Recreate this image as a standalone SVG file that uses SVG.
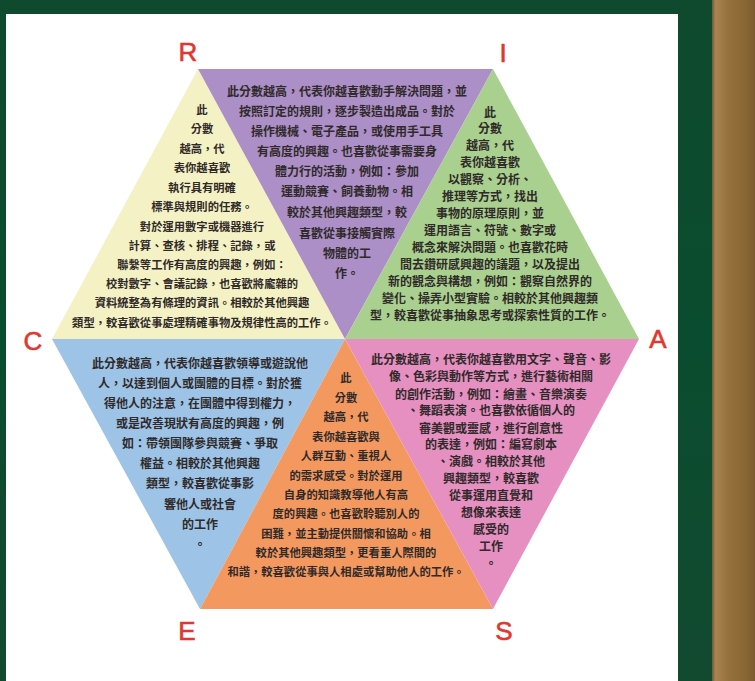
<svg xmlns="http://www.w3.org/2000/svg" width="755" height="681" viewBox="0 0 755 681" xml:lang="zh-TW" lang="zh-TW">
<defs>
<linearGradient id="wood" x1="0" y1="0" x2="1" y2="0">
<stop offset="0" stop-color="#6e5a2e"/>
<stop offset="0.08" stop-color="#a98450"/>
<stop offset="0.4" stop-color="#94703c"/>
<stop offset="0.75" stop-color="#8a6834"/>
<stop offset="1" stop-color="#7c5c2e"/>
</linearGradient>
<linearGradient id="board" x1="0" y1="0" x2="0" y2="1">
<stop offset="0" stop-color="#0f4a2e"/>
<stop offset="0.5" stop-color="#0a4c2f"/>
<stop offset="1" stop-color="#124a30"/>
</linearGradient>
<style>
.t{font-family:"Noto Sans CJK TC","Noto Sans CJK SC",sans-serif;font-weight:700;fill:#302a2a;text-anchor:middle;dominant-baseline:central}
.s12{font-size:12px}
.s11{font-size:11.3px}
.lt{font-family:"Liberation Sans",Arial,sans-serif;font-size:26px;fill:#e0372e;stroke:#e0372e;stroke-width:0.6;text-anchor:middle}
</style>
</defs>
<rect x="0" y="0" width="755" height="681" fill="url(#board)"/>
<rect x="712" y="0" width="43" height="681" fill="url(#wood)"/>
<rect x="6" y="14" width="672" height="667" fill="#ffffff"/>

<g id="node-R">
<polygon points="198,69 345,339 52,339" fill="#f4f2c4"/>
<g class="t s11">
<text x="202" y="109">此</text>
<text x="202" y="128">分數</text>
<text x="202" y="148">越高，代</text>
<text x="202" y="167">表你越喜歡</text>
<text x="202" y="187">執行具有明確</text>
<text x="202" y="206">標準與規則的任務。</text>
<text x="202" y="226">對於運用數字或機器進行</text>
<text x="202" y="245">計算、查核、排程、記錄，或</text>
<text x="202" y="264">聯繫等工作有高度的興趣，例如：</text>
<text x="202" y="283">校對數字、會議記錄，也喜歡將龐雜的</text>
<text x="202" y="302">資料統整為有條理的資訊。相較於其他興趣</text>
<text x="202" y="322">類型，較喜歡從事處理精確事物及規律性高的工作。</text>
</g>
</g>

<g id="node-R-I">
<polygon points="198,69 493,69 345,339" fill="#ab8fc6"/>
<g class="t s12">
<text x="347" y="90">此分數越高，代表你越喜歡動手解決問題，並</text>
<text x="347" y="110">按照訂定的規則，逐步製造出成品。對於</text>
<text x="347" y="130">操作機械、電子產品，或使用手工具</text>
<text x="347" y="150">有高度的興趣。也喜歡從事需要身</text>
<text x="347" y="170">體力行的活動，例如：參加</text>
<text x="347" y="190">運動競賽、飼養動物。相</text>
<text x="347" y="211">較於其他興趣類型，較</text>
<text x="347" y="232">喜歡從事接觸實際</text>
<text x="347" y="252">物體的工</text>
<text x="347" y="272">作。</text>
</g>
</g>

<g id="node-I">
<polygon points="493,69 639,339 345,339" fill="#a9d08e"/>
<g class="t s12">
<text x="490" y="111">此</text>
<text x="490" y="127">分數</text>
<text x="490" y="144">越高，代</text>
<text x="490" y="161">表你越喜歡</text>
<text x="490" y="178">以觀察、分析、</text>
<text x="490" y="195">推理等方式，找出</text>
<text x="490" y="212">事物的原理原則，並</text>
<text x="490" y="229">運用語言、符號、數字或</text>
<text x="490" y="246">概念來解決問題。也喜歡花時</text>
<text x="490" y="263">間去鑽研感興趣的議題，以及提出</text>
<text x="490" y="280">新的觀念與構想，例如：觀察自然界的</text>
<text x="490" y="297">變化、操弄小型實驗。相較於其他興趣類</text>
<text x="490" y="314">型，較喜歡從事抽象思考或探索性質的工作。</text>
</g>
</g>

<g id="node-C">
<polygon points="52,339 345,339 200,609" fill="#9dc3e6"/>
<g class="t s12">
<text x="200" y="362">此分數越高，代表你越喜歡領導或遊說他</text>
<text x="200" y="382">人，以達到個人或團體的目標。對於獲</text>
<text x="200" y="402">得他人的注意，在團體中得到權力，</text>
<text x="200" y="422">或是改善現狀有高度的興趣，例</text>
<text x="200" y="442">如：帶領團隊參與競賽、爭取</text>
<text x="200" y="462">權益。相較於其他興趣</text>
<text x="200" y="482">類型，較喜歡從事影</text>
<text x="200" y="503">響他人或社會</text>
<text x="200" y="523">的工作</text>
<text x="200" y="543">。</text>
</g>
</g>

<g id="node-E">
<polygon points="345,339 493,609 200,609" fill="#f3995f"/>
<g class="t s11">
<text x="346" y="377">此</text>
<text x="346" y="397">分數</text>
<text x="346" y="416">越高，代</text>
<text x="346" y="436">表你越喜歡與</text>
<text x="346" y="455">人群互動、重視人</text>
<text x="346" y="475">的需求感受。對於運用</text>
<text x="346" y="494">自身的知識教導他人有高</text>
<text x="346" y="513">度的興趣。也喜歡聆聽別人的</text>
<text x="346" y="533">困難，並主動提供關懷和協助。相</text>
<text x="346" y="552">較於其他興趣類型，更看重人際間的</text>
<text x="346" y="571">和諧，較喜歡從事與人相處或幫助他人的工作。</text>
</g>
</g>

<g id="node-A">
<polygon points="345,339 639,339 493,609" fill="#e690c1"/>
<g class="t s12">
<text x="491" y="358">此分數越高，代表你越喜歡用文字、聲音、影</text>
<text x="491" y="375">像、色彩與動作等方式，進行藝術相關</text>
<text x="491" y="393">的創作活動，例如：繪畫、音樂演奏</text>
<text x="491" y="409">、舞蹈表演。也喜歡依循個人的</text>
<text x="491" y="427">審美觀或靈感，進行創意性</text>
<text x="491" y="443">的表達，例如：編寫劇本</text>
<text x="491" y="460">、演戲。相較於其他</text>
<text x="491" y="477">興趣類型，較喜歡</text>
<text x="491" y="494">從事運用直覺和</text>
<text x="491" y="511">想像來表達</text>
<text x="491" y="528">感受的</text>
<text x="491" y="545">工作</text>
<text x="491" y="562">。</text>
</g>
</g>

<g id="labels">
<text class="lt" x="188" y="61">R</text>
<text class="lt" x="503" y="62">I</text>
<text class="lt" x="33" y="350">C</text>
<text class="lt" x="658" y="348">A</text>
<text class="lt" x="187" y="640">E</text>
<text class="lt" x="504" y="640">S</text>
</g>
<g id="connectors"/>
</svg>
